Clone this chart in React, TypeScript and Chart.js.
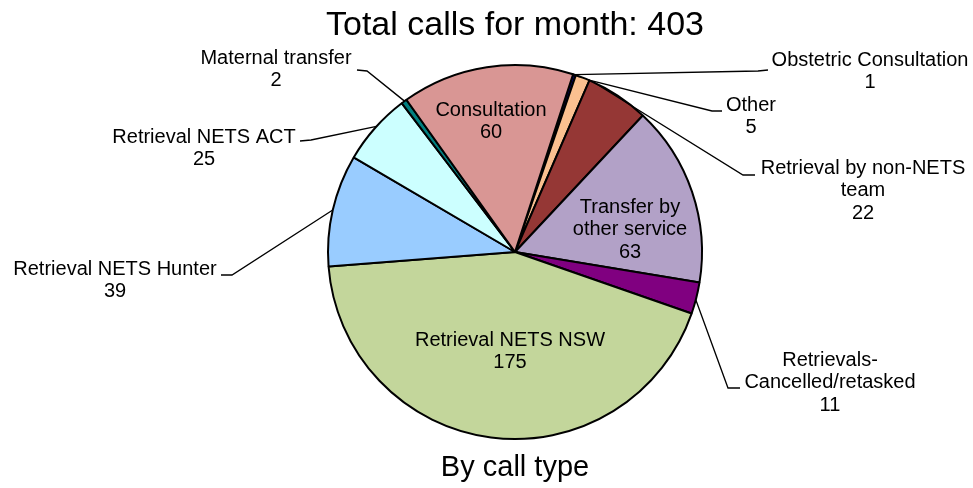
import React, { useEffect, useRef } from "react";
import { Chart, registerables } from "chart.js";

Chart.register(...registerables);

// ---- data ----
const TITLE = "Total calls for month: 403";
const SUBTITLE = "By call type";
const CATEGORIES = [
  "Obstetric Consultation",
  "Other",
  "Retrieval by non-NETS team",
  "Transfer by other service",
  "Retrievals-Cancelled/retasked",
  "Retrieval NETS NSW",
  "Retrieval NETS Hunter",
  "Retrieval NETS ACT",
  "Maternal transfer",
  "Consultation",
];
const LABEL_LINES = [
  ["Obstetric Consultation"],
  ["Other"],
  ["Retrieval by non-NETS", "team"],
  ["Transfer by", "other service"],
  ["Retrievals-", "Cancelled/retasked"],
  ["Retrieval NETS NSW"],
  ["Retrieval NETS Hunter"],
  ["Retrieval NETS ACT"],
  ["Maternal transfer"],
  ["Consultation"],
];
const CALLS = [1, 5, 22, 63, 11, 175, 39, 25, 2, 60];
const COLORS = [
  "#000080",
  "#FAC090",
  "#953735",
  "#B2A1C7",
  "#800080",
  "#C3D69B",
  "#99CCFF",
  "#CCFFFF",
  "#008080",
  "#D99694",
];

// ---- label layout (pixel offsets from pie centre, for a 187px radius) ----
type Callout = {
  t?: number; // position along the slice arc where the leader starts
  elbow?: [number, number];
  end?: [number, number];
  text: [number, number]; // centre x, first line centre y
};
const REF_R = 187;
const LINE_H = 22.5;
const CALLOUTS: Callout[] = [
  { t: 0.5, elbow: [243, -181], end: [253, -182], text: [355, -192] },
  { t: 0.9, elbow: [197, -141], end: [207, -141], text: [236, -147] },
  { t: 0.08, elbow: [228, -77], end: [240, -77], text: [348, -84] },
  { text: [115, -45] },
  { t: 0.55, elbow: [213, 136], end: [225, 136], text: [315, 108] },
  { text: [-5, 88] },
  { t: 0.5, elbow: [-283, 23], end: [-294, 23], text: [-400, 17] },
  { t: 0.53, elbow: [-204, -112], end: [-215, -111], text: [-311, -115] },
  { t: 0.6, elbow: [-148, -181], end: [-158, -182], text: [-239, -194] },
  { text: [-24, -142] },
];

const FONT = "'Liberation Sans', Arial, Helvetica, sans-serif";

const calloutPlugin = {
  id: "callouts",
  afterDatasetsDraw(chart: any) {
    const ctx = chart.ctx as CanvasRenderingContext2D;
    const meta = chart.getDatasetMeta(0);
    const values = chart.data.datasets[0].data as number[];
    ctx.save();
    ctx.font = `20px ${FONT}`;
    ctx.fillStyle = "#000";
    ctx.strokeStyle = "#000";
    ctx.lineWidth = 1.3;
    ctx.textAlign = "center";
    ctx.textBaseline = "middle";
    meta.data.forEach((arc: any, i: number) => {
      const p = arc.getProps(["x", "y", "startAngle", "endAngle", "outerRadius"], true);
      const c = CALLOUTS[i];
      const s = p.outerRadius / REF_R;
      if (c.elbow && c.end) {
        const a = p.startAngle + (c.t ?? 0.5) * (p.endAngle - p.startAngle);
        ctx.beginPath();
        ctx.moveTo(p.x + Math.cos(a) * p.outerRadius, p.y + Math.sin(a) * p.outerRadius);
        ctx.lineTo(p.x + c.elbow[0] * s, p.y + c.elbow[1] * s);
        ctx.lineTo(p.x + c.end[0] * s, p.y + c.end[1] * s);
        ctx.stroke();
      }
      const lines = [...LABEL_LINES[i], String(values[i])];
      lines.forEach((ln, k) => {
        ctx.fillText(ln, p.x + c.text[0] * s, p.y + (c.text[1] + k * LINE_H) * s);
      });
    });
    ctx.restore();
  },
};

export default function App() {
  const canvasRef = useRef<HTMLCanvasElement | null>(null);

  useEffect(() => {
    if (!canvasRef.current) return;
    const chart = new Chart(canvasRef.current, {
      type: "pie",
      data: {
        labels: CATEGORIES,
        datasets: [
          {
            data: CALLS,
            backgroundColor: COLORS,
            borderColor: "#000",
            borderWidth: 2,
            hoverOffset: 0,
          },
        ],
      },
      options: {
        animation: false,
        responsive: false,
        rotation: 18.1,
        radius: REF_R,
        layout: { padding: { left: 57, right: 0, top: 0, bottom: 0 } },
        events: [],
        plugins: {
          legend: { display: false },
          tooltip: { enabled: false },
          title: {
            display: true,
            text: TITLE,
            color: "#000",
            font: { family: FONT, size: 34, weight: "normal" },
            padding: { top: 5, bottom: 8 },
          },
          subtitle: {
            display: true,
            position: "bottom",
            text: SUBTITLE,
            color: "#000",
            font: { family: FONT, size: 29, weight: "normal" },
            padding: { top: 0, bottom: 3 },
          },
        },
      },
      plugins: [calloutPlugin],
    } as any);
    return () => chart.destroy();
  }, []);

  return (
    <div style={{ position: "absolute", left: 0, top: 0, width: 973, height: 488, background: "#fff" }}>
      <canvas ref={canvasRef} width={973} height={488} style={{ display: "block" }} />
    </div>
  );
}
